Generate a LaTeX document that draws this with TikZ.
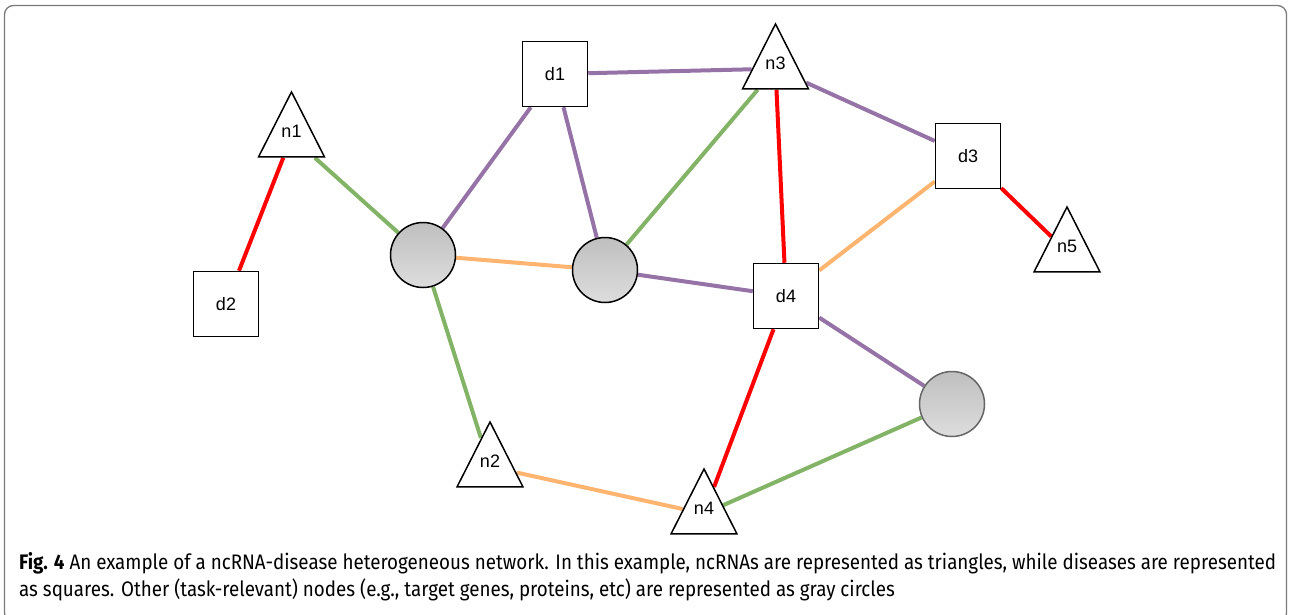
\documentclass[tikz,border=0pt]{standalone}
\usepackage{fontspec}
\setmainfont{Liberation Sans}
\newfontfamily\capfont[FakeStretch=0.895]{Fira Sans}
\usetikzlibrary{shapes.geometric,backgrounds}
\definecolor{linkred}{HTML}{FF0000}
\definecolor{linkgreen}{HTML}{82B366}
\definecolor{linkpurple}{HTML}{9673A6}
\definecolor{linkorange}{HTML}{FFB570}
\definecolor{balltop}{HTML}{BFBFBF}
\definecolor{ballbot}{HTML}{DDDDDD}
\definecolor{frame}{HTML}{7A7A7A}
\tikzset{
  nodefont/.style={font=\fontsize{18}{20}\selectfont},
  rna/.style={isosceles triangle, isosceles triangle stretches, shape border rotate=90,
    draw=black, line width=1.5pt, fill=white, minimum width=66pt, minimum height=65pt,
    inner sep=0pt, anchor=apex,
    label={[nodefont, yshift=5pt]center:#1}},
  disease/.style={rectangle, draw=black, line width=1.5pt, fill=white,
    minimum size=65pt, inner sep=0pt, nodefont},
  other/.style={circle, draw=black, line width=1.5pt, top color=balltop, bottom color=ballbot,
    minimum size=65pt, inner sep=0pt},
  link/.style={line width=4pt},
  red link/.style={link, linkred},
  green link/.style={link, linkgreen},
  purple link/.style={link, linkpurple},
  orange link/.style={link, linkorange}
}
\begin{document}
\begin{tikzpicture}[x=1pt,y=-1pt]
\useasboundingbox (0,0) rectangle (1290,615);
\draw[frame, line width=1.3pt, rounded corners=9pt] (4.5,5.5) rectangle (1286.5,622);

% ncRNAs (positioned by their apex)
\node[rna=n1] (n1) at (291.5,90) {};
\node[rna=n2] (n2) at (490,420) {};
\node[rna=n3] (n3) at (775.5,22) {};
\node[rna=n4] (n4) at (704,467) {};
\node[rna=n5] (n5) at (1067,205) {};
% diseases
\node[disease] (d1) at (555,74) {d1};
\node[disease] (d2) at (226,304) {d2};
\node[disease] (d3) at (968,156) {d3};
\node[disease] (d4) at (786,296) {d4};
% other nodes
\node[other] (c1) at (423,255) {};
\node[other] (c2) at (605,270) {};
\node[other, draw=black!60] (c3) at (952,404) {};

\begin{scope}[on background layer]
\draw[red link] (n1) -- (d2);
\draw[red link] (n3) -- (d4);
\draw[red link] (d3) -- (n5);
\draw[red link] (d4) -- (n4);
\draw[green link] (n1) -- (c1);
\draw[green link] (c1) -- (n2);
\draw[green link] (c2) -- (n3);
\draw[green link] (c3) -- (n4);
\draw[purple link] (c1) -- (d1);
\draw[purple link] (d1) -- (n3);
\draw[purple link] (d1) -- (c2);
\draw[purple link] (c2) -- (d4);
\draw[purple link] (n3) -- (d3);
\draw[purple link] (d4) -- (c3);
\draw[orange link] (c1) -- (c2);
\draw[orange link] (d3) -- (d4);
\draw[orange link] (n2) -- (n4);
\end{scope}

\node[anchor=north west, align=left, inner sep=0pt, font=\capfont\fontsize{21}{27}\selectfont]
  (caption) at (19,552)
  {\textbf{Fig. 4} An example of a ncRNA-disease heterogeneous network. In this example, ncRNAs are represented as triangles, while diseases are represented\\
   as squares. Other (task-relevant) nodes (e.g., target genes, proteins, etc) are represented as gray circles};
\end{tikzpicture}
\end{document}
